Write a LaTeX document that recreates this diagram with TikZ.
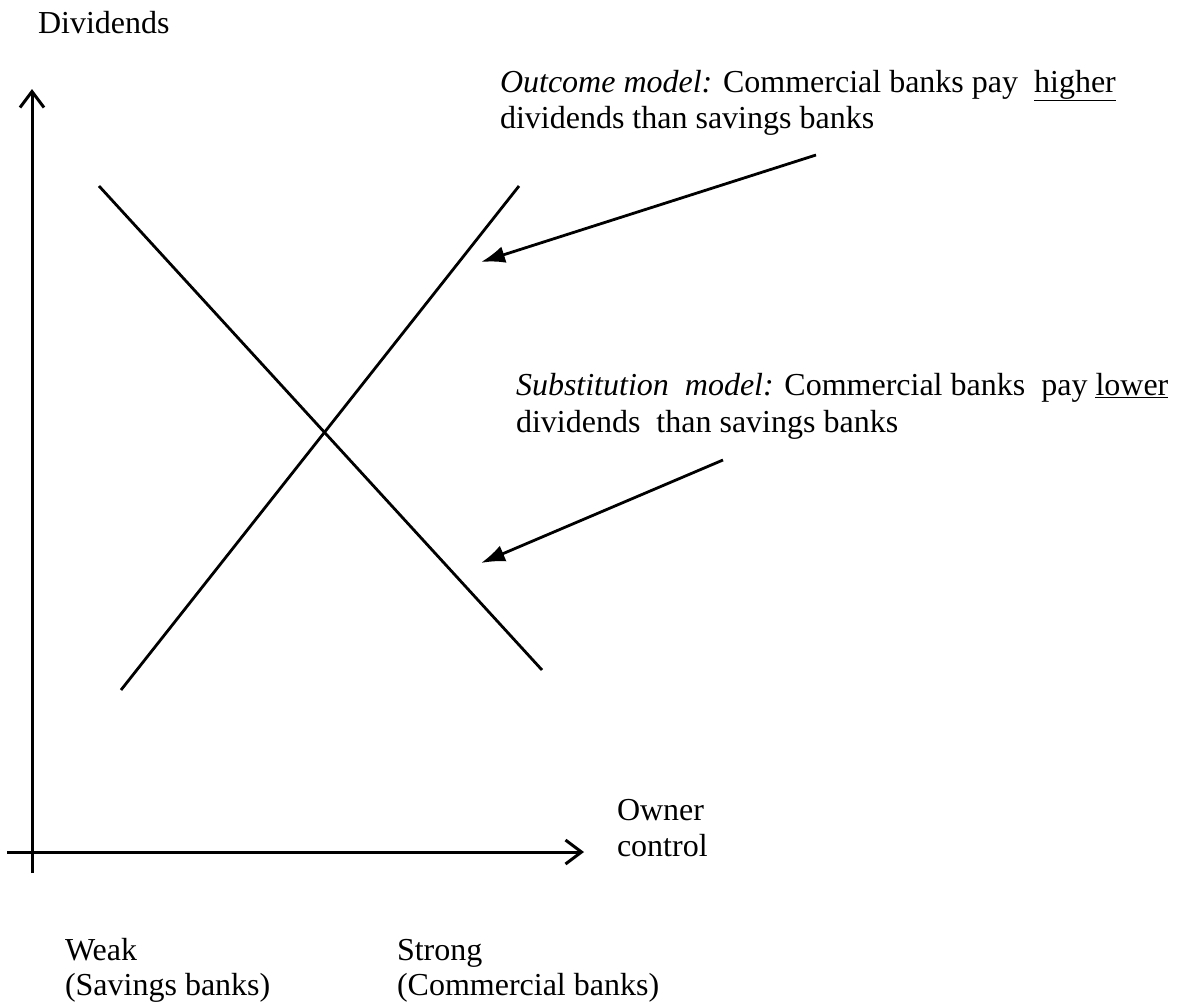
\documentclass[tikz,border=0pt]{standalone}
\usepackage{fontspec}
\setmainfont{Liberation Serif}
\usetikzlibrary{arrows.meta}
\begin{document}
\begin{tikzpicture}[x=1pt,y=-1pt,
  txt/.style={inner sep=0pt,outer sep=0pt,anchor=base west,align=left,font=\fontsize{32}{36}\selectfont},
  axis/.style={line width=3pt,-{Straight Barb[length=16pt,width=24pt,line width=3pt]}},
  curve/.style={line width=2.8pt},
  pointer/.style={line width=2.8pt,-{Latex[length=24pt,width=17pt]}}]
\useasboundingbox[fill=white] (0,0) rectangle (1184,1002);
% axes
\coordinate (yb) at (32,873);
\coordinate (yt) at (32,89);
\coordinate (xl) at (7,852);
\coordinate (xr) at (584,852);
\draw[axis] (yb) -- (yt);
\draw[axis] (xl) -- (xr);
% lines
\coordinate (d1) at (99,186);
\coordinate (d2) at (542,670);
\coordinate (u1) at (121,690);
\coordinate (u2) at (519,186);
\draw[curve] (d1) -- (d2);
\draw[curve] (u1) -- (u2);
% pointers
\coordinate (a1s) at (816,155);
\coordinate (a1e) at (481,262);
\coordinate (a2s) at (723,460);
\coordinate (a2e) at (481,563);
\draw[pointer] (a1s) -- (a1e);
\draw[pointer] (a2s) -- (a2e);
% texts
\node[txt] (div) at (38,33) {Dividends};
\node[txt] (out1) at (500,92) {\textit{Outcome model:} Commercial banks pay\ \ \underline{higher}};
\node[txt] (out2) at (500,128) {dividends than savings banks};
\node[txt] (sub1) at (516,395) {\textit{Substitution\ \ model:} Commercial banks\ \ pay \underline{lower}};
\node[txt] (sub2) at (516,432) {dividends\ \ than savings banks};
\node[txt] (own1) at (617,820) {Owner};
\node[txt] (own2) at (617,856) {control};
\node[txt] (weak1) at (65,960) {Weak};
\node[txt] (weak2) at (65,995) {(Savings banks)};
\node[txt] (str1) at (397,960) {Strong};
\node[txt] (str2) at (397,995) {(Commercial banks)};
\end{tikzpicture}
\end{document}
